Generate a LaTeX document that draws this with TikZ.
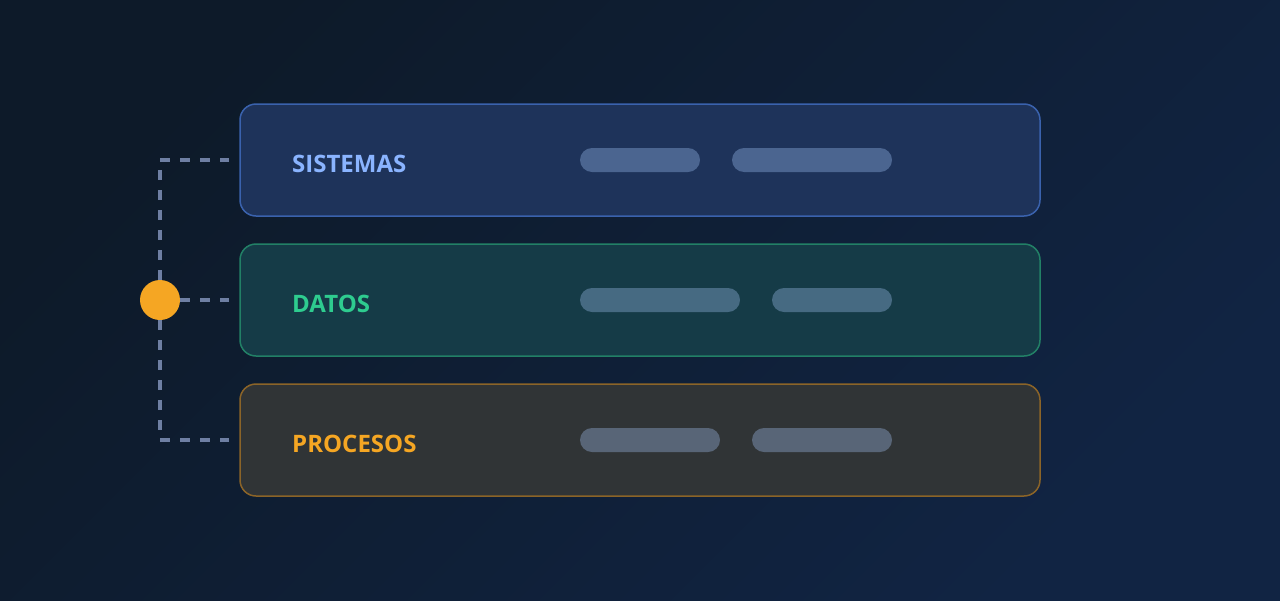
\documentclass[tikz,border=0pt]{standalone}
\usepackage{fontspec}
\setmainfont{Open Sans}
\usetikzlibrary{positioning}

\definecolor{bgA}{HTML}{0D1A29}
\definecolor{bgB}{HTML}{112443}
\definecolor{sysFill}{HTML}{1E335A}
\definecolor{sysLine}{HTML}{3A62AD}
\definecolor{sysText}{HTML}{8AB4FF}
\definecolor{sysPill}{HTML}{4B6590}
\definecolor{datFill}{HTML}{153B47}
\definecolor{datLine}{HTML}{228066}
\definecolor{datText}{HTML}{2ECC8F}
\definecolor{datPill}{HTML}{466A82}
\definecolor{proFill}{HTML}{303436}
\definecolor{proLine}{HTML}{8B6428}
\definecolor{proText}{HTML}{F5A623}
\definecolor{proPill}{HTML}{586577}
\definecolor{linkGray}{HTML}{6E7FA3}

\tikzset{
	layer/.style = {draw, line width = 1.5pt, rounded corners = 16pt,
		minimum width = 800pt, minimum height = 112pt, inner sep = 0pt},
	pill/.style = {rounded corners = 12pt, minimum height = 24pt, inner sep = 0pt},
	tag/.style = {anchor = base west, inner sep = 0pt,
		font = \fontsize{24}{28}\selectfont\bfseries},
	link/.style = {linkGray, line width = 3.5pt, dash pattern = on 10pt off 10pt, shorten > = 10pt}
}

\begin{document}
\begin{tikzpicture}[x = 1pt, y = -1pt]

	% Background

	\useasboundingbox (0, 0) rectangle (1280, 600);
	\shade [left color = bgA, right color = bgB, shading angle = 45] (0, 0) rectangle (1280, 600);

	% Layers

	\node [layer, fill = sysFill, draw = sysLine] (sys) at (640, 160) {};
	\node [layer, fill = datFill, draw = datLine] (dat) at (640, 300) {};
	\node [layer, fill = proFill, draw = proLine] (pro) at (640, 440) {};

	\node [tag, text = sysText] (sysTag) at (292, 172) {SISTEMAS};
	\node [tag, text = datText] (datTag) at (292, 312) {DATOS};
	\node [tag, text = proText] (proTag) at (292, 452) {PROCESOS};

	% Placeholder bars

	\begin{scope}[pill]

		\node [fill = sysPill, minimum width = 120pt] (sysA) at (640, 160) {};
		\node [fill = sysPill, minimum width = 160pt] (sysB) at (812, 160) {};

		\node [fill = datPill, minimum width = 160pt] (datA) at (660, 300) {};
		\node [fill = datPill, minimum width = 120pt] (datB) at (832, 300) {};

		\node [fill = proPill, minimum width = 140pt] (proA) at (650, 440) {};
		\node [fill = proPill, minimum width = 140pt] (proB) at (822, 440) {};

	\end{scope}

	% Hub and dashed links

	\node [circle, fill = proText, minimum size = 40pt, inner sep = 0pt] (hub) at (160, 300) {};

	\draw [link] (hub.north) |- (sys.west);
	\draw [link] (hub.east) -- (dat.west);
	\draw [link] (hub.south) |- (pro.west);

\end{tikzpicture}
\end{document}
